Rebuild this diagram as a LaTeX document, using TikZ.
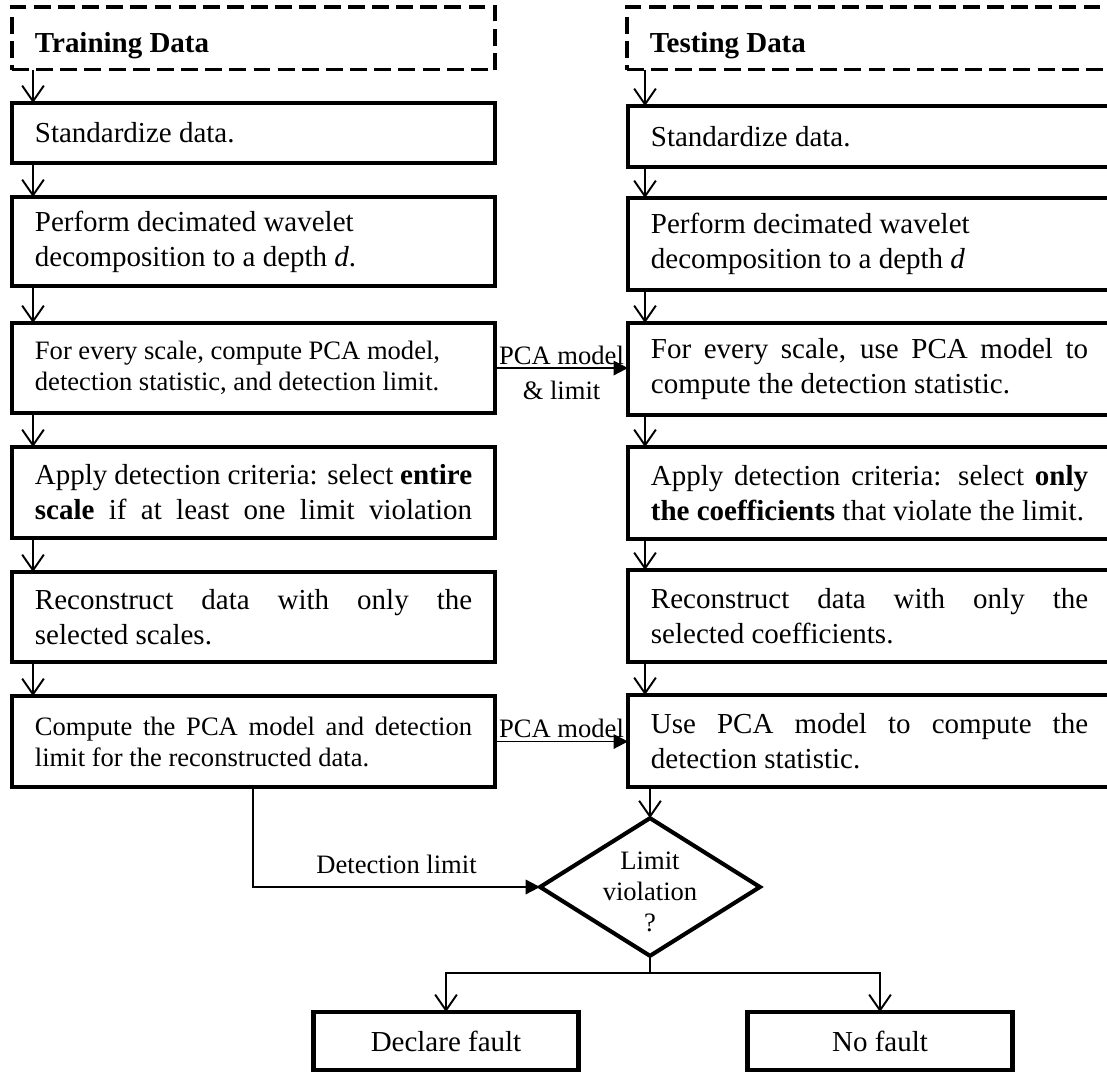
\documentclass[tikz,border=0pt]{standalone}
\usepackage{fontspec}
\setmainfont{Liberation Serif}
\usetikzlibrary{arrows.meta,shapes.geometric,positioning}
\hbadness=10000
\newcommand\wgap{\hspace{3pt plus 1fill}}
\tikzset{
  stepbox/.style={draw, line width=1.7pt, anchor=north west, outer sep=0pt,
    text width=181pt, inner xsep=9.5pt, inner ysep=2pt,
    align=justify, font=\fontsize{12}{14.5}\selectfont},
  smallbox/.style={stepbox, font=\fontsize{11}{12.8}\selectfont},
  headbox/.style={stepbox, line width=1.4pt, dash pattern=on 7pt off 3pt,
    font=\bfseries\fontsize{12}{14.5}\selectfont},
  endbox/.style={draw, line width=1.7pt, outer sep=0pt, anchor=north,
    minimum width=109.7pt, minimum height=24pt, font=\fontsize{12}{14.5}\selectfont},
  lbl/.style={font=\fontsize{11}{12.8}\selectfont, inner sep=1pt},
  vee/.style={-{Straight Barb[length=6.5pt,width=9pt]}, line width=0.8pt},
  tri/.style={-{Triangle[length=6pt,width=6pt]}, line width=0.8pt},
}
\begin{document}
\begin{tikzpicture}[x=0.414pt, y=-0.414pt]
    \useasboundingbox (0,0) rectangle (1107,1072);

    % arrow columns
    \coordinate (lx) at (33,0);
    \coordinate (rx) at (645,0);
    \coordinate (dx) at (253,0);

    % training side
    \node[headbox, minimum height=26pt] (l0) at (12,7) {\rule{0pt}{14pt}Training Data};
    \node[stepbox, minimum height=24.8pt] (l1) at (12,103) {Standardize data.};
    \node[stepbox, minimum height=37pt] (l2) at (12,197) {Perform decimated wavelet\\decomposition to a depth \textit{d}.};
    \node[smallbox, minimum height=37.3pt] (l3) at (12,323) {For every scale, compute PCA model,\\detection statistic, and detection limit.};
    \node[stepbox, minimum height=37.7pt] (l4) at (12,447) {Apply detection criteria: select \textbf{entire}\linebreak \textbf{scale}\wgap if\wgap at\wgap least\wgap one\wgap limit\wgap violation};
    \node[stepbox, minimum height=37.3pt] (l5) at (12,572) {Reconstruct data with only the\linebreak selected scales.};
    \node[smallbox, minimum height=37.7pt] (l6) at (12,696) {Compute the PCA model and detection\linebreak limit for the reconstructed data.};

    % testing side
    \node[headbox, minimum height=26pt] (r0) at (627,7) {\rule{0pt}{14pt}Testing Data};
    \node[stepbox, minimum height=25.2pt] (r1) at (628,106) {Standardize data.};
    \node[stepbox, minimum height=38pt] (r2) at (628,198) {Perform decimated wavelet\\decomposition to a depth \textit{d}};
    \node[stepbox, minimum height=38pt] (r3) at (628,323) {For every scale, use PCA model to\linebreak compute the detection statistic.};
    \node[stepbox, minimum height=38pt] (r4) at (628,447) {Apply detection criteria: select \textbf{only}\linebreak \textbf{the coefficients} that violate the limit.};
    \node[stepbox, minimum height=38pt] (r5) at (628,570) {Reconstruct data with only the\linebreak selected coefficients.};
    \node[stepbox, minimum height=38pt] (r6) at (628,695) {Use PCA model to compute the\linebreak detection statistic.};

    % decision and results
    \node[diamond, draw, line width=1.7pt, outer sep=0pt, inner sep=0pt,
      minimum width=91pt, minimum height=57pt] (dec) at (650,887) {};
    \node[lbl, align=center] (dectext) at (650,892) {Limit\\violation\\?};
    \coordinate (split) at (650,973);
    \node[endbox] (fault) at (446,1012) {Declare fault};
    \node[endbox] (nofault) at (880,1012) {No fault};

    % flow down each side
    \foreach \a/\b in {l0/l1,l1/l2,l2/l3,l3/l4,l4/l5,l5/l6}
      \draw[vee] (\a.south -| lx) -- (\b.north -| lx);
    \foreach \a/\b in {r0/r1,r1/r2,r2/r3,r3/r4,r4/r5,r5/r6}
      \draw[vee] (\a.south -| rx) -- (\b.north -| rx);

    % across
    \draw[tri] (l3.east) -- (l3.east -| r3.west)
      node[lbl, midway, above] (pca1) {PCA model}
      node[lbl, midway, below=4pt] (lim1) {\& limit};
    \draw[tri] (l6.east) -- (l6.east -| r6.west)
      node[lbl, midway, above] (pca2) {PCA model};
    \draw[tri] (l6.south -| dx) |- (dec.west)
      node[lbl, pos=0.75, above=4pt] (detlim) {Detection limit};
    \draw[vee] (r6.south -| dec.north) -- (dec.north);

    % outcome
    \draw[line width=0.8pt] (dec.south) -- (split);
    \draw[vee] (split) -| (fault.north);
    \draw[vee] (split) -| (nofault.north);
\end{tikzpicture}
\end{document}
